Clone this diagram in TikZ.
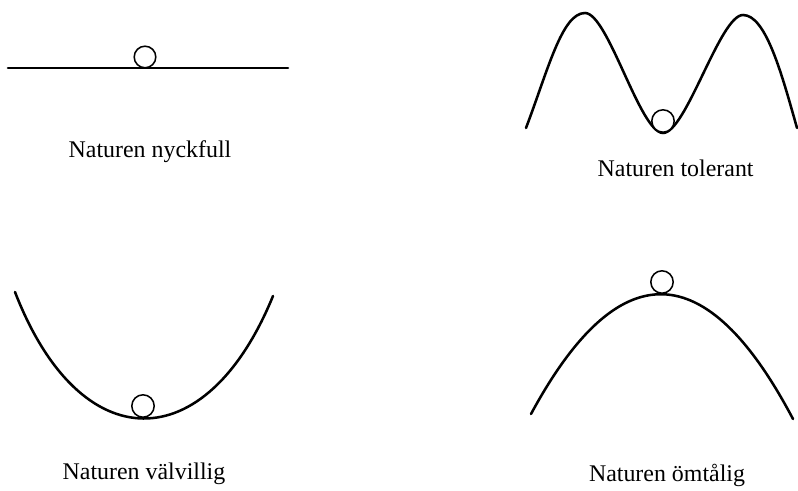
\documentclass[tikz,border=0pt]{standalone}
\usepackage{fontspec}
\setmainfont{Liberation Serif}
\usepackage{tikz}
\usetikzlibrary{calc,positioning}

\begin{document}
\begin{tikzpicture}[x=1cm,y=1cm]

% --- STYLES ---
\tikzset{
  terrain/.style={draw=black, line width=1.8pt, line cap=round},
  ball/.style={draw=black, line width=1.1pt, fill=white},
  caption/.style={font=\fontsize{17}{20}\selectfont, anchor=base, inner sep=0pt},
}

\useasboundingbox (0,0) rectangle (19.95,12.275);

% ================= NATUREN NYCKFULL (flat) =================
\draw[terrain] (0.2,10.575) -- (7.2,10.575);
\draw[ball] (3.625,10.85) circle (0.27);
\node[caption] (nyck) at (3.75,8.325) {Naturen nyckfull};

% ================= NATUREN TOLERANT (double hill) =================
\draw[terrain] (13.15,9.075)
  .. controls (13.7,10.525) and (14.05,11.95) .. (14.625,11.95)
  .. controls (15.2,11.95) and (16.0,8.95) .. (16.575,8.95)
  .. controls (17.15,8.95) and (18.0,11.9) .. (18.575,11.9)
  .. controls (19.15,11.9) and (19.55,10.4) .. (19.925,9.075);
\draw[ball] (16.575,9.25) circle (0.28);
\node[caption] (toler) at (16.89,7.85) {Naturen tolerant};

% ================= NATUREN VÄLVILLIG (valley) =================
\draw[terrain] (0.375,4.975)
  .. controls (2.0,0.775) and (5.15,0.775) .. (6.825,4.875);
\draw[ball] (3.575,2.125) circle (0.28);
\node[caption] (valv) at (3.6,0.275) {Naturen välvillig};

% ================= NATUREN ÖMTÅLIG (hilltop) =================
\draw[terrain] (13.275,1.925)
  .. controls (15.45,5.95) and (17.65,5.925) .. (19.825,1.8);
\draw[ball] (16.55,5.225) circle (0.28);
\node[caption] (omtal) at (16.675,0.225) {Naturen ömtålig};

\end{tikzpicture}
\end{document}
